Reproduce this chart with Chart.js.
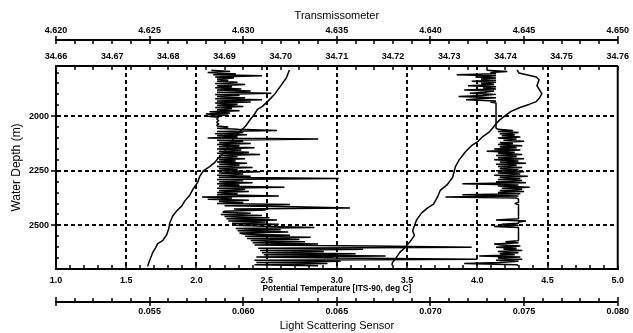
<!DOCTYPE html>
<html><head><meta charset="utf-8">
<script src="https://cdn.jsdelivr.net/npm/chart.js@4.4.1/dist/chart.umd.min.js"></script>
<style>html,body{margin:0;padding:0;background:#fff}#wrap{width:633px;height:333px;position:relative}</style>
</head><body><div id="wrap"><canvas id="c" width="633" height="333"></canvas></div>
<script>
// ---- tick labels ----
const tempTicks = [1.0, 1.5, 2.0, 2.5, 3.0, 3.5, 4.0, 4.5, 5.0];
const lsTicks = [0.055, 0.060, 0.065, 0.070, 0.075, 0.080];
const trTicks = [4.620, 4.625, 4.630, 4.635, 4.640, 4.645, 4.650];
const salTicks = [34.66, 34.67, 34.68, 34.69, 34.70, 34.71, 34.72, 34.73, 34.74, 34.75, 34.76];
const depthTicks = [2000, 2250, 2500];

// ---- potential temperature profile (deg C) ----
const tempDepth = [1788, 1824, 1869, 1901, 1924, 1955, 1969, 1991, 2014, 2046, 2068, 2091, 2109, 2136, 2163, 2195, 2213, 2231, 2249, 2276, 2303, 2330, 2362, 2389, 2412, 2434, 2457, 2489, 2516, 2543, 2570, 2584, 2602, 2624, 2647, 2670, 2688];
const tempVals = [2.662, 2.641, 2.591, 2.555, 2.520, 2.470, 2.435, 2.413, 2.385, 2.349, 2.314, 2.278, 2.257, 2.229, 2.200, 2.151, 2.129, 2.094, 2.051, 2.023, 2.009, 1.980, 1.952, 1.916, 1.895, 1.859, 1.831, 1.810, 1.803, 1.788, 1.760, 1.724, 1.710, 1.689, 1.675, 1.661, 1.653];

// ---- salinity profile ----
const salDepth = [1788, 1802, 1820, 1833, 1860, 1888, 1897, 1915, 1933, 1946, 1960, 1978, 2001, 2019, 2032, 2046, 2073, 2095, 2118, 2132, 2163, 2199, 2231, 2281, 2312, 2340, 2371, 2403, 2421, 2443, 2475, 2502, 2525, 2547, 2579, 2602, 2624, 2647, 2670, 2683];
const salVals = [34.7421, 34.7424, 34.7455, 34.7460, 34.7456, 34.7463, 34.7465, 34.7461, 34.7455, 34.7442, 34.7426, 34.7410, 34.7398, 34.7389, 34.7384, 34.7380, 34.7371, 34.7359, 34.7350, 34.7341, 34.7329, 34.7318, 34.7311, 34.7306, 34.7297, 34.7284, 34.7279, 34.7272, 34.7261, 34.7251, 34.7242, 34.7238, 34.7235, 34.7238, 34.7229, 34.7221, 34.7212, 34.7206, 34.7199, 34.7198];

// ---- sensor records: one sample every 5 m from 1790 m ----
const sensorStart = 1790, sensorStep = 5;
const lightScatter = [
  0.0583, 0.0593, 0.0581, 0.0596, 0.0584, 0.0610, 0.0585, 0.0595, 0.0586, 0.0592,
  0.0586, 0.0597, 0.0585, 0.0601, 0.0586, 0.0594, 0.0585, 0.0599, 0.0586, 0.0604,
  0.0586, 0.0615, 0.0585, 0.0598, 0.0586, 0.0601, 0.0585, 0.0610, 0.0586, 0.0604,
  0.0585, 0.0597, 0.0586, 0.0600, 0.0585, 0.0594, 0.0586, 0.0598, 0.0582, 0.0593,
  0.0580, 0.0592, 0.0581, 0.0587, 0.0586, 0.0586, 0.0587, 0.0586, 0.0586, 0.0587,
  0.0586, 0.0586, 0.0592, 0.0586, 0.0597, 0.0618, 0.0586, 0.0600, 0.0585, 0.0602,
  0.0586, 0.0597, 0.0581, 0.0640, 0.0586, 0.0600, 0.0587, 0.0604, 0.0586, 0.0598,
  0.0587, 0.0606, 0.0586, 0.0599, 0.0587, 0.0603, 0.0586, 0.0609, 0.0587, 0.0597,
  0.0586, 0.0601, 0.0587, 0.0596, 0.0586, 0.0602, 0.0587, 0.0598, 0.0586, 0.0605,
  0.0587, 0.0597, 0.0586, 0.0609, 0.0587, 0.0600, 0.0586, 0.0604, 0.0587, 0.0651,
  0.0586, 0.0600, 0.0587, 0.0605, 0.0586, 0.0598, 0.0587, 0.0622, 0.0586, 0.0601,
  0.0587, 0.0603, 0.0586, 0.0597, 0.0586, 0.0619, 0.0578, 0.0594, 0.0581, 0.0603,
  0.0587, 0.0600, 0.0586, 0.0625, 0.0590, 0.0628, 0.0657, 0.0595, 0.0612, 0.0590,
  0.0589, 0.0604, 0.0588, 0.0610, 0.0590, 0.0614, 0.0591, 0.0618, 0.0592, 0.0612,
  0.0594, 0.0619, 0.0595, 0.0615, 0.0638, 0.0596, 0.0620, 0.0597, 0.0624, 0.0598,
  0.0600, 0.0625, 0.0601, 0.0636, 0.0602, 0.0630, 0.0604, 0.0633, 0.0605, 0.0640,
  0.0606, 0.0668, 0.0722, 0.0608, 0.0664, 0.0609, 0.0643, 0.0610, 0.0660, 0.0611,
  0.0676, 0.0607, 0.0648, 0.0725, 0.0606, 0.0652, 0.0607, 0.0645, 0.0606, 0.0640
];
const transmissometer = [
  4.6430, 4.6441, 4.6432, 4.6435, 4.6414, 4.6435, 4.6424, 4.6435, 4.6427, 4.6435,
  4.6422, 4.6435, 4.6427, 4.6434, 4.6420, 4.6435, 4.6428, 4.6435, 4.6418, 4.6434,
  4.6429, 4.6421, 4.6435, 4.6428, 4.6415, 4.6435, 4.6426, 4.6419, 4.6435, 4.6432,
  4.6435, 4.6435, 4.6435, 4.6435, 4.6435, 4.6435, 4.6435, 4.6435, 4.6435, 4.6435,
  4.6435, 4.6435, 4.6435, 4.6435, 4.6435, 4.6435, 4.6435, 4.6435, 4.6435, 4.6435,
  4.6435, 4.6435, 4.6435, 4.6435, 4.6436, 4.6444, 4.6436, 4.6447, 4.6437, 4.6445,
  4.6438, 4.6448, 4.6436, 4.6446, 4.6439, 4.6450, 4.6437, 4.6444, 4.6436, 4.6449,
  4.6437, 4.6446, 4.6434, 4.6448, 4.6430, 4.6445, 4.6436, 4.6449, 4.6435, 4.6446,
  4.6436, 4.6450, 4.6434, 4.6447, 4.6437, 4.6451, 4.6435, 4.6446, 4.6436, 4.6449,
  4.6437, 4.6447, 4.6435, 4.6450, 4.6436, 4.6448, 4.6434, 4.6452, 4.6437, 4.6448,
  4.6436, 4.6449, 4.6435, 4.6451, 4.6417, 4.6447, 4.6436, 4.6453, 4.6438, 4.6449,
  4.6437, 4.6450, 4.6436, 4.6448, 4.6417, 4.6447, 4.6408, 4.6446, 4.6447, 4.6447,
  4.6447, 4.6447, 4.6445, 4.6447, 4.6447, 4.6447, 4.6447, 4.6447, 4.6447, 4.6447,
  4.6447, 4.6447, 4.6447, 4.6447, 4.6447, 4.6447, 4.6447, 4.6435, 4.6451, 4.6447,
  4.6447, 4.6438, 4.6447, 4.6434, 4.6447, 4.6447, 4.6447, 4.6447, 4.6447, 4.6447,
  4.6447, 4.6447, 4.6447, 4.6447, 4.6447, 4.6447, 4.6447, 4.6440, 4.6447, 4.6434,
  4.6438, 4.6448, 4.6435, 4.6446, 4.6439, 4.6449, 4.6436, 4.6447, 4.6437, 4.6445,
  4.6426, 4.6448, 4.6436, 4.6449, 4.6435, 4.6447, 4.6437, 4.6418, 4.6446, 4.6447
];

const FONT = "'Liberation Sans', Arial, sans-serif";
const pairs = (depths, vals) => vals.map((v, i) => ({x: v, y: depths[i]}));
const sensorPairs = vals => vals.map((v, i) => ({x: v, y: sensorStart + i * sensorStep}));
const fixTicks = arr => (scale) => { scale.ticks = arr.map(v => ({value: v})); };
const tickFont = {family: FONT, size: 9, weight: 'bold'};

const axisTicks = {
  id: 'axisTicks',
  afterDraw(chart) {
    const {ctx, chartArea: a, scales: s} = chart;
    ctx.save();
    ctx.strokeStyle = '#000';
    ctx.setLineDash([]);
    ctx.lineWidth = 1.5;
    function hx(scale, step, yA, minUp, minDown, majUp, majDown, majors) {
      const n = Math.round((scale.max - scale.min) / step);
      for (let i = 0; i <= n; i++) {
        const v = scale.min + i * step;
        const maj = i === 0 || i === n || majors.some(m => Math.abs(m - v) < step / 10);
        const x = Math.round(scale.getPixelForValue(v));
        ctx.beginPath();
        ctx.moveTo(x, yA - (maj ? majUp : minUp));
        ctx.lineTo(x, yA + (maj ? majDown : minDown));
        ctx.stroke();
      }
    }
    hx(s.xTR, 0.001, s.xTR.bottom, 0, 4, 4, 4, trTicks);
    hx(s.xS, 0.01 / 3, s.xS.bottom, 0, 4, 0, 4, salTicks);
    hx(s.xT, 0.1, s.xT.top, 4, 0, 4, 0, tempTicks);
    hx(s.xLS, 0.001, s.xLS.top, 4, 0, 5, 4, lsTicks);
    const y = s.y, xA = y.right;
    for (let v = Math.ceil(y.min / 50) * 50; v <= y.max; v += 50) {
      const py = Math.round(y.getPixelForValue(v));
      const maj = depthTicks.includes(v);
      ctx.beginPath();
      ctx.moveTo(xA - (maj ? 5 : 0), py);
      ctx.lineTo(xA + 3, py);
      ctx.stroke();
    }
    ctx.lineWidth = 2;
    ctx.beginPath();
    ctx.moveTo(a.right, a.top);
    ctx.lineTo(a.right, a.bottom);
    ctx.stroke();
    ctx.restore();
  }
};

const hiddenGrid = {display: true, drawOnChartArea: false, drawTicks: false, color: 'rgba(0,0,0,0)'};
const border = {display: true, color: '#000', width: 2};
const lineStyle = {borderColor: '#000', pointRadius: 0, showLine: true, fill: false, borderJoinStyle: 'bevel'};

new Chart(document.getElementById('c'), {
  type: 'scatter',
  data: {
    datasets: [
      Object.assign({label: 'Light Scattering', data: sensorPairs(lightScatter), xAxisID: 'xLS', yAxisID: 'y', borderWidth: 1.5}, lineStyle),
      Object.assign({label: 'Transmissometer', data: sensorPairs(transmissometer), xAxisID: 'xTR', yAxisID: 'y', borderWidth: 1.5}, lineStyle),
      Object.assign({label: 'Potential Temperature', data: pairs(tempDepth, tempVals), xAxisID: 'xT', yAxisID: 'y', borderWidth: 1.5}, lineStyle),
      Object.assign({label: 'Salinity', data: pairs(salDepth, salVals), xAxisID: 'xS', yAxisID: 'y', borderWidth: 1.5}, lineStyle)
    ]
  },
  options: {
    responsive: false,
    animation: false,
    events: [],
    layout: {padding: {left: 0, right: 14, top: 0, bottom: 0}},
    plugins: {legend: {display: false}, tooltip: {enabled: false}},
    scales: {
      xTR: {
        axis: 'x', type: 'linear', position: 'top', weight: 1, min: 4.620, max: 4.650,
        afterBuildTicks: fixTicks(trTicks),
        afterFit: s => { s.height = 40; },
        ticks: {font: tickFont, color: '#000', padding: 4, autoSkip: false, maxRotation: 0, callback: v => v.toFixed(3)},
        grid: hiddenGrid, border: border,
        title: {display: true, text: 'Transmissometer', color: '#000', font: {family: FONT, size: 11}, padding: {top: 9, bottom: 0}}
      },
      xS: {
        axis: 'x', type: 'linear', position: 'top', weight: 0, min: 34.66, max: 34.76,
        afterBuildTicks: fixTicks(salTicks),
        afterFit: s => { s.height = 26; },
        ticks: {font: tickFont, color: '#000', padding: 4, autoSkip: false, maxRotation: 0, callback: v => v.toFixed(2)},
        grid: hiddenGrid, border: border
      },
      xT: {
        axis: 'x', type: 'linear', position: 'bottom', weight: 0, min: 1.0, max: 5.0,
        afterBuildTicks: fixTicks(tempTicks),
        afterFit: s => { s.height = 33; },
        ticks: {font: tickFont, color: '#000', padding: 6, autoSkip: false, maxRotation: 0, callback: v => v.toFixed(1)},
        grid: {
          display: true, drawOnChartArea: true, drawTicks: false, lineWidth: 2,
          color: c => (c.tick && (Math.abs(c.tick.value - 1) < 1e-9 || Math.abs(c.tick.value - 5) < 1e-9)) ? 'rgba(0,0,0,0)' : '#000'
        },
        border: {display: true, color: '#000', width: 2, dash: [4, 3]},
        title: {display: true, text: 'Potential Temperature [ITS-90, deg C]', color: '#000', font: {family: FONT, size: 8.4, weight: 'bold'}, padding: {top: 0, bottom: 8}}
      },
      xLS: {
        axis: 'x', type: 'linear', position: 'bottom', weight: 1, min: 0.050, max: 0.080,
        afterBuildTicks: fixTicks(lsTicks),
        afterFit: s => { s.height = 31; },
        ticks: {font: tickFont, color: '#000', padding: 4, autoSkip: false, maxRotation: 0, callback: v => v.toFixed(3)},
        grid: hiddenGrid, border: border,
        title: {display: true, text: 'Light Scattering Sensor', color: '#000', font: {family: FONT, size: 11}, padding: {top: 0, bottom: 0}}
      },
      y: {
        axis: 'y', type: 'linear', position: 'left', reverse: true, min: 1770, max: 2700,
        afterBuildTicks: fixTicks(depthTicks),
        afterFit: s => { s.width = 56; },
        ticks: {font: tickFont, color: '#000', padding: 7, autoSkip: false, callback: v => String(v)},
        grid: {display: true, drawOnChartArea: true, drawTicks: false, lineWidth: 2, color: '#000'},
        border: {display: true, color: '#000', width: 2, dash: [4, 3]},
        title: {display: true, text: 'Water Depth (m)', color: '#000', font: {family: FONT, size: 12}, padding: {top: 9, bottom: 0}}
      }
    }
  },
  plugins: [axisTicks]
});
</script>
</body></html>
